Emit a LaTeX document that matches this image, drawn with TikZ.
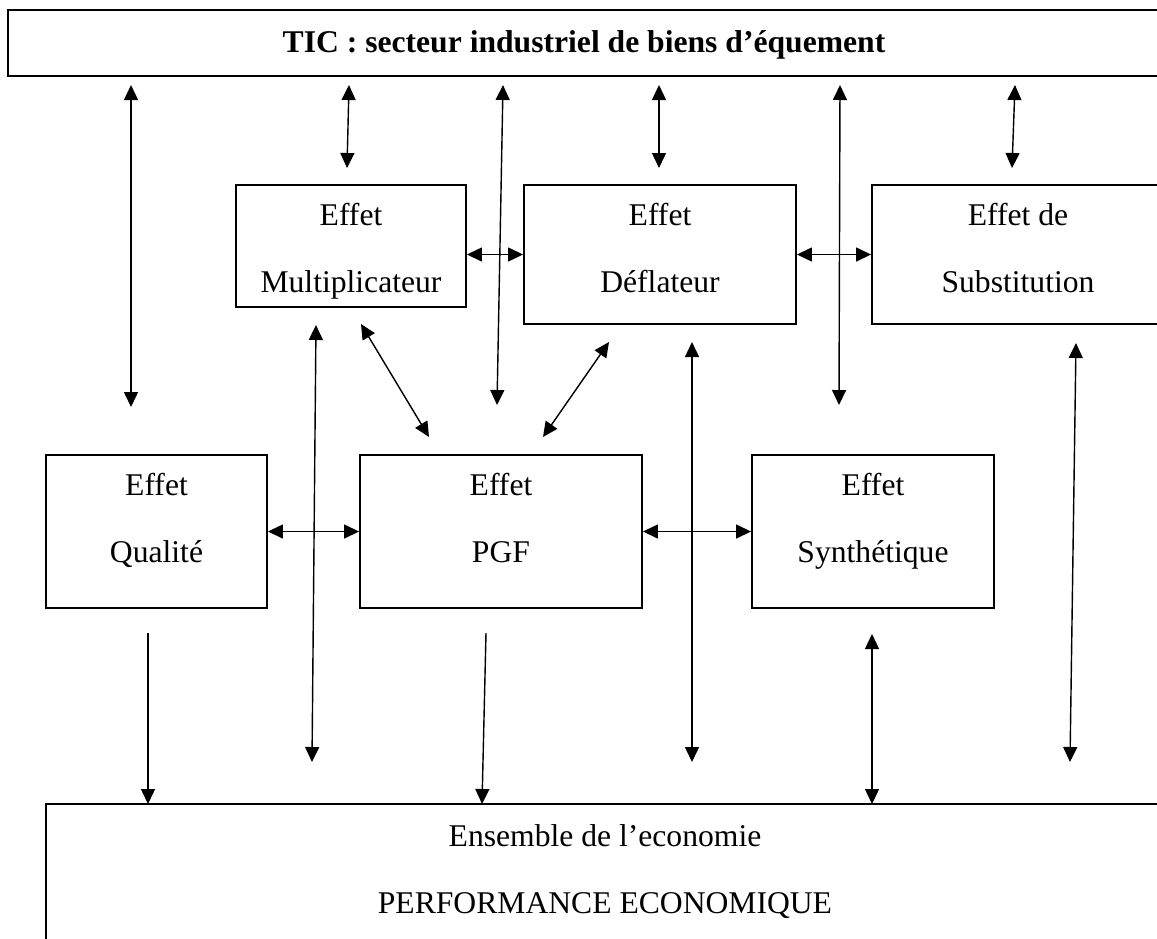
\documentclass[tikz,border=0pt]{standalone}
\usepackage{fontspec}
\setmainfont{Liberation Serif}
\usetikzlibrary{arrows.meta}
\tikzset{
  boite/.style={draw,line width=1.1pt,align=center,inner sep=0pt,
    font=\fontsize{18}{38}\selectfont},
  fl/.style={{Triangle[length=3mm,width=2.8mm]}-{Triangle[length=3mm,width=2.8mm]},
    line width=0.8pt},
  fs/.style={-{Triangle[length=3mm,width=2.8mm]},line width=0.8pt},
}
\begin{document}
\begin{tikzpicture}[x=0.02cm,y=-0.02cm]
  \useasboundingbox (0,0) rectangle (1157,938);
  \clip (0,0) rectangle (1157,938);
  % boites
  \node[boite,minimum width=23.04cm,text height=0.84cm,text depth=0.48cm,
    font=\fontsize{18}{38}\selectfont\bfseries] (tic) at (584,43)
    {TIC : secteur industriel de biens d’équement};
  \node[boite,minimum width=4.6cm,text height=2.14cm,text depth=0.3cm] (mult) at (351,246)
    {Effet\\Multiplicateur};
  \node[boite,minimum width=5.44cm,text height=2.14cm,text depth=0.64cm] (defl) at (660,254.5)
    {Effet\\Déflateur};
  \node[boite,minimum width=5.84cm,text height=2.14cm,text depth=0.64cm] (subst) at (1018,254.5)
    {Effet de\\Substitution};
  \node[boite,minimum width=4.42cm,text height=2.14cm,text depth=0.92cm] (qual) at (156.5,531.5)
    {Effet\\Qualité};
  \node[boite,minimum width=5.64cm,text height=2.14cm,text depth=0.92cm] (pgf) at (501,531.5)
    {Effet\\PGF};
  \node[boite,minimum width=4.84cm,text height=2.14cm,text depth=0.92cm] (synth) at (873,531.5)
    {Effet\\Synthétique};
  \node[boite,minimum width=22.36cm,text height=2.18cm,text depth=1.74cm] (eco) at (605,902)
    {Ensemble de l’economie\\PERFORMANCE ECONOMIQUE};
  % extremites libres
  \coordinate (t1) at (131,85);  \coordinate (b1) at (131,407);
  \coordinate (t2) at (349,85);  \coordinate (b2) at (347,168);
  \coordinate (t3) at (503,85);  \coordinate (b3) at (497,405);
  \coordinate (t4) at (659,85);  \coordinate (b4) at (659,168);
  \coordinate (t5) at (840,85);  \coordinate (b5) at (839,405);
  \coordinate (t6) at (1015,85); \coordinate (b6) at (1012,168);
  \coordinate (d1a) at (361,324); \coordinate (d1b) at (429,437);
  \coordinate (d2a) at (543,437); \coordinate (d2b) at (609,342);
  \coordinate (v1a) at (316,325); \coordinate (v1b) at (312,762);
  \coordinate (v2a) at (692,342); \coordinate (v2b) at (692,762);
  \coordinate (v3a) at (1076,343); \coordinate (v3b) at (1070,762);
  \coordinate (l1) at (148,633); \coordinate (e1) at (148,804);
  \coordinate (l2) at (486,633); \coordinate (e2) at (482,804);
  \coordinate (l3) at (872,634); \coordinate (e3) at (872,804);
  % fleches
  \foreach \i in {1,...,6} \draw[fl] (t\i) -- (b\i);
  \draw[fl] (mult.east |- defl.west) -- (defl.west);
  \draw[fl] (defl) -- (subst);
  \draw[fl] (d1a) -- (d1b); \draw[fl] (d2a) -- (d2b);
  \draw[fl] (v1a) -- (v1b); \draw[fl] (v2a) -- (v2b); \draw[fl] (v3a) -- (v3b);
  \draw[fl] (qual) -- (pgf); \draw[fl] (pgf) -- (synth);
  \draw[fs] (l1) -- (e1); \draw[fs] (l2) -- (e2);
  \draw[fl] (l3) -- (e3);
\end{tikzpicture}
\end{document}
